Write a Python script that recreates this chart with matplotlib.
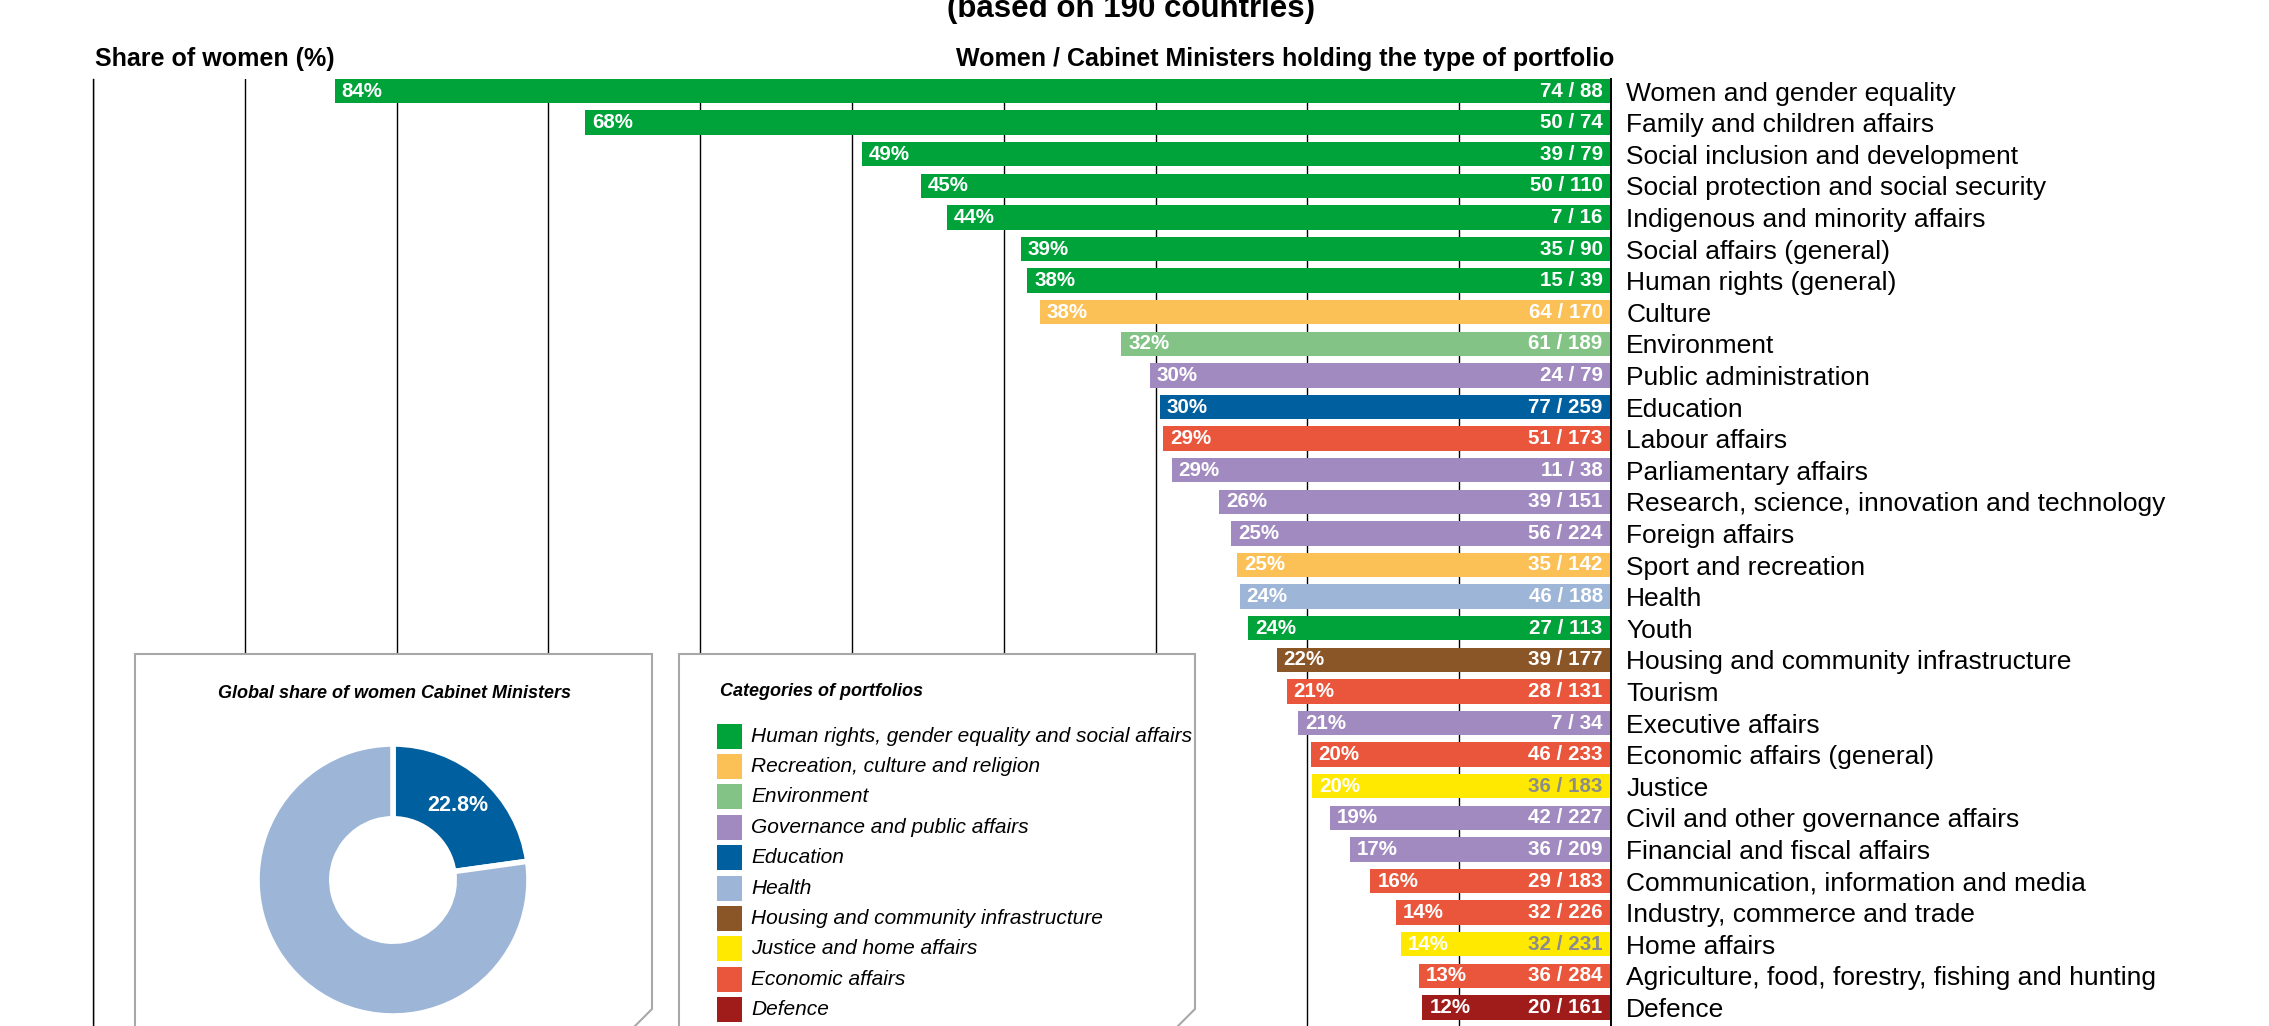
import matplotlib
matplotlib.use('Agg')
import matplotlib.pyplot as plt
import numpy as np
from matplotlib.patches import Polygon, Rectangle

plt.rcParams['font.family'] = ['Liberation Sans', 'DejaVu Sans']

# portfolio data (women / all cabinet ministers holding it)
portfolios = ['Women and gender equality', 'Family and children affairs',
              'Social inclusion and development', 'Social protection and social security',
              'Indigenous and minority affairs', 'Social affairs (general)',
              'Human rights (general)', 'Culture', 'Environment', 'Public administration',
              'Education', 'Labour affairs', 'Parliamentary affairs',
              'Research, science, innovation and technology', 'Foreign affairs',
              'Sport and recreation', 'Health', 'Youth',
              'Housing and community infrastructure', 'Tourism', 'Executive affairs',
              'Economic affairs (general)', 'Justice', 'Civil and other governance affairs',
              'Financial and fiscal affairs', 'Communication, information and media',
              'Industry, commerce and trade', 'Home affairs',
              'Agriculture, food, forestry, fishing and hunting', 'Defence']
women = [74, 50, 39, 50, 7, 35, 15, 64, 61, 24, 77, 51, 11, 39, 56, 35, 46, 27,
         39, 28, 7, 46, 36, 42, 36, 29, 32, 32, 36, 20]
ministers = [88, 74, 79, 110, 16, 90, 39, 170, 189, 79, 259, 173, 38, 151, 224, 142,
             188, 113, 177, 131, 34, 233, 183, 227, 209, 183, 226, 231, 284, 161]
share_pct = [84, 68, 49, 45, 44, 39, 38, 38, 32, 30, 30, 29, 29, 26, 25, 25, 24, 24,
             22, 21, 21, 20, 20, 19, 17, 16, 14, 14, 13, 12]
group = [0, 0, 0, 0, 0, 0, 0, 1, 2, 3, 4, 8, 3, 3, 3, 1, 5, 0,
         6, 8, 3, 8, 7, 3, 3, 8, 8, 7, 8, 9]

categories = ['Human rights, gender equality and social affairs',
              'Recreation, culture and religion', 'Environment',
              'Governance and public affairs', 'Education', 'Health',
              'Housing and community infrastructure', 'Justice and home affairs',
              'Economic affairs', 'Defence']
cat_colors = ['#00a23a', '#fbc156', '#83c385', '#a18ac0', '#005f9e',
              '#9db5d6', '#8a5627', '#ffe900', '#e9563b', '#a01c1b']

global_share = [22.8, 77.2]

W, H = 2269, 1026
fig = plt.figure(figsize=(W / 100, H / 100), dpi=100)

# bar chart, x axis reversed: 0 % on the right
pitch = 31.6
yc0 = 91
top_lim, bot_lim = -0.39, 30.0
px_top = yc0 + top_lim * pitch
px_bot = yc0 + bot_lim * pitch
ax = fig.add_axes([93 / W, (H - px_bot) / H, 1518 / W, (px_bot - px_top) / H])
ax.set_zorder(1)

n = len(portfolios)
ypos = np.arange(n)
share = np.array(women) / np.array(ministers) * 100
colors = [cat_colors[g] for g in group]
ax.barh(ypos, share, height=0.775, color=colors, zorder=2)

ax.set_xlim(100, 0)
ax.set_ylim(bot_lim, top_lim)
ax.set_xticks(range(10, 101, 10))
ax.tick_params(axis='x', length=0, labelbottom=False)
ax.grid(axis='x', color='black', lw=1.0)
ax.set_axisbelow(True)
for s in ['top', 'bottom']:
    ax.spines[s].set_visible(False)
ax.spines['left'].set_linewidth(1.0)
ax.spines['right'].set_linewidth(1.4)

ax.yaxis.tick_right()
ax.set_yticks(ypos)
ax.set_yticklabels(portfolios, fontsize=19)
ax.tick_params(axis='y', length=0, pad=11)

for i in range(n):
    txt_col = '#8c8c8c' if group[i] == 7 else 'white'
    ax.annotate('%d%%' % share_pct[i], (share[i], i), xytext=(5, 0),
                textcoords='offset points', ha='left', va='center',
                fontsize=14.8, fontweight='bold', color='white', zorder=3)
    ax.annotate('%d / %d' % (women[i], ministers[i]), (0, i), xytext=(-6, 0),
                textcoords='offset points', ha='right', va='center',
                fontsize=14.8, fontweight='bold', color=txt_col, zorder=3)

# overlay in pixel coordinates for headers and the two panels
ov = fig.add_axes([0, 0, 1, 1])
ov.set_zorder(2)
ov.set_xlim(0, W)
ov.set_ylim(H, 0)
ov.axis('off')

ov.text(1131, 17, '(based on 190 countries)', ha='center', va='baseline',
        fontsize=22.5, fontweight='bold')
ov.text(95, 59, 'Share of women (%)', ha='left', va='center',
        fontsize=18, fontweight='bold')
ov.text(1614, 59, 'Women / Cabinet Ministers holding the type of portfolio',
        ha='right', va='center', fontsize=18, fontweight='bold')

for x0, x1 in [(135, 652), (679, 1195)]:
    pts = [(x0, H + 20), (x0, 654), (x1, 654), (x1, 1009), (x1 - 40, 1049)]
    ov.add_patch(Polygon(pts, closed=False, facecolor='white',
                         edgecolor='#a8a8a8', lw=1.5))

ov.text(394, 694, 'Global share of women Cabinet Ministers', ha='center',
        va='center', fontsize=13, fontweight='bold', style='italic')
ov.text(720, 692, 'Categories of portfolios', ha='left', va='center',
        fontsize=13, fontweight='bold', style='italic')

for k, (lab, col) in enumerate(zip(categories, cat_colors)):
    yc = 736 + k * 30.4
    ov.add_patch(Rectangle((717, yc - 12.5), 25, 25, facecolor=col, edgecolor='none'))
    ov.text(751, yc, lab, ha='left', va='center', fontsize=15, style='italic')

# donut
r_px = 136
axd = fig.add_axes([(393 - r_px) / W, (H - 880 - r_px) / H, 2 * r_px / W, 2 * r_px / H])
axd.set_zorder(3)
axd.pie(global_share, colors=['#005f9e', '#9db5d6'], startangle=90, counterclock=False,
        wedgeprops=dict(width=0.55, edgecolor='white', linewidth=4))
axd.set_xlim(-1, 1)
axd.set_ylim(-1, 1)
ang = np.deg2rad(90 - global_share[0] / 100 * 360 / 2)
rm = 0.73
axd.text(rm * np.cos(ang), rm * np.sin(ang), '%.1f%%' % global_share[0],
         ha='center', va='center', fontsize=15.5, fontweight='bold', color='white')

fig.savefig('out.png', dpi=100)
